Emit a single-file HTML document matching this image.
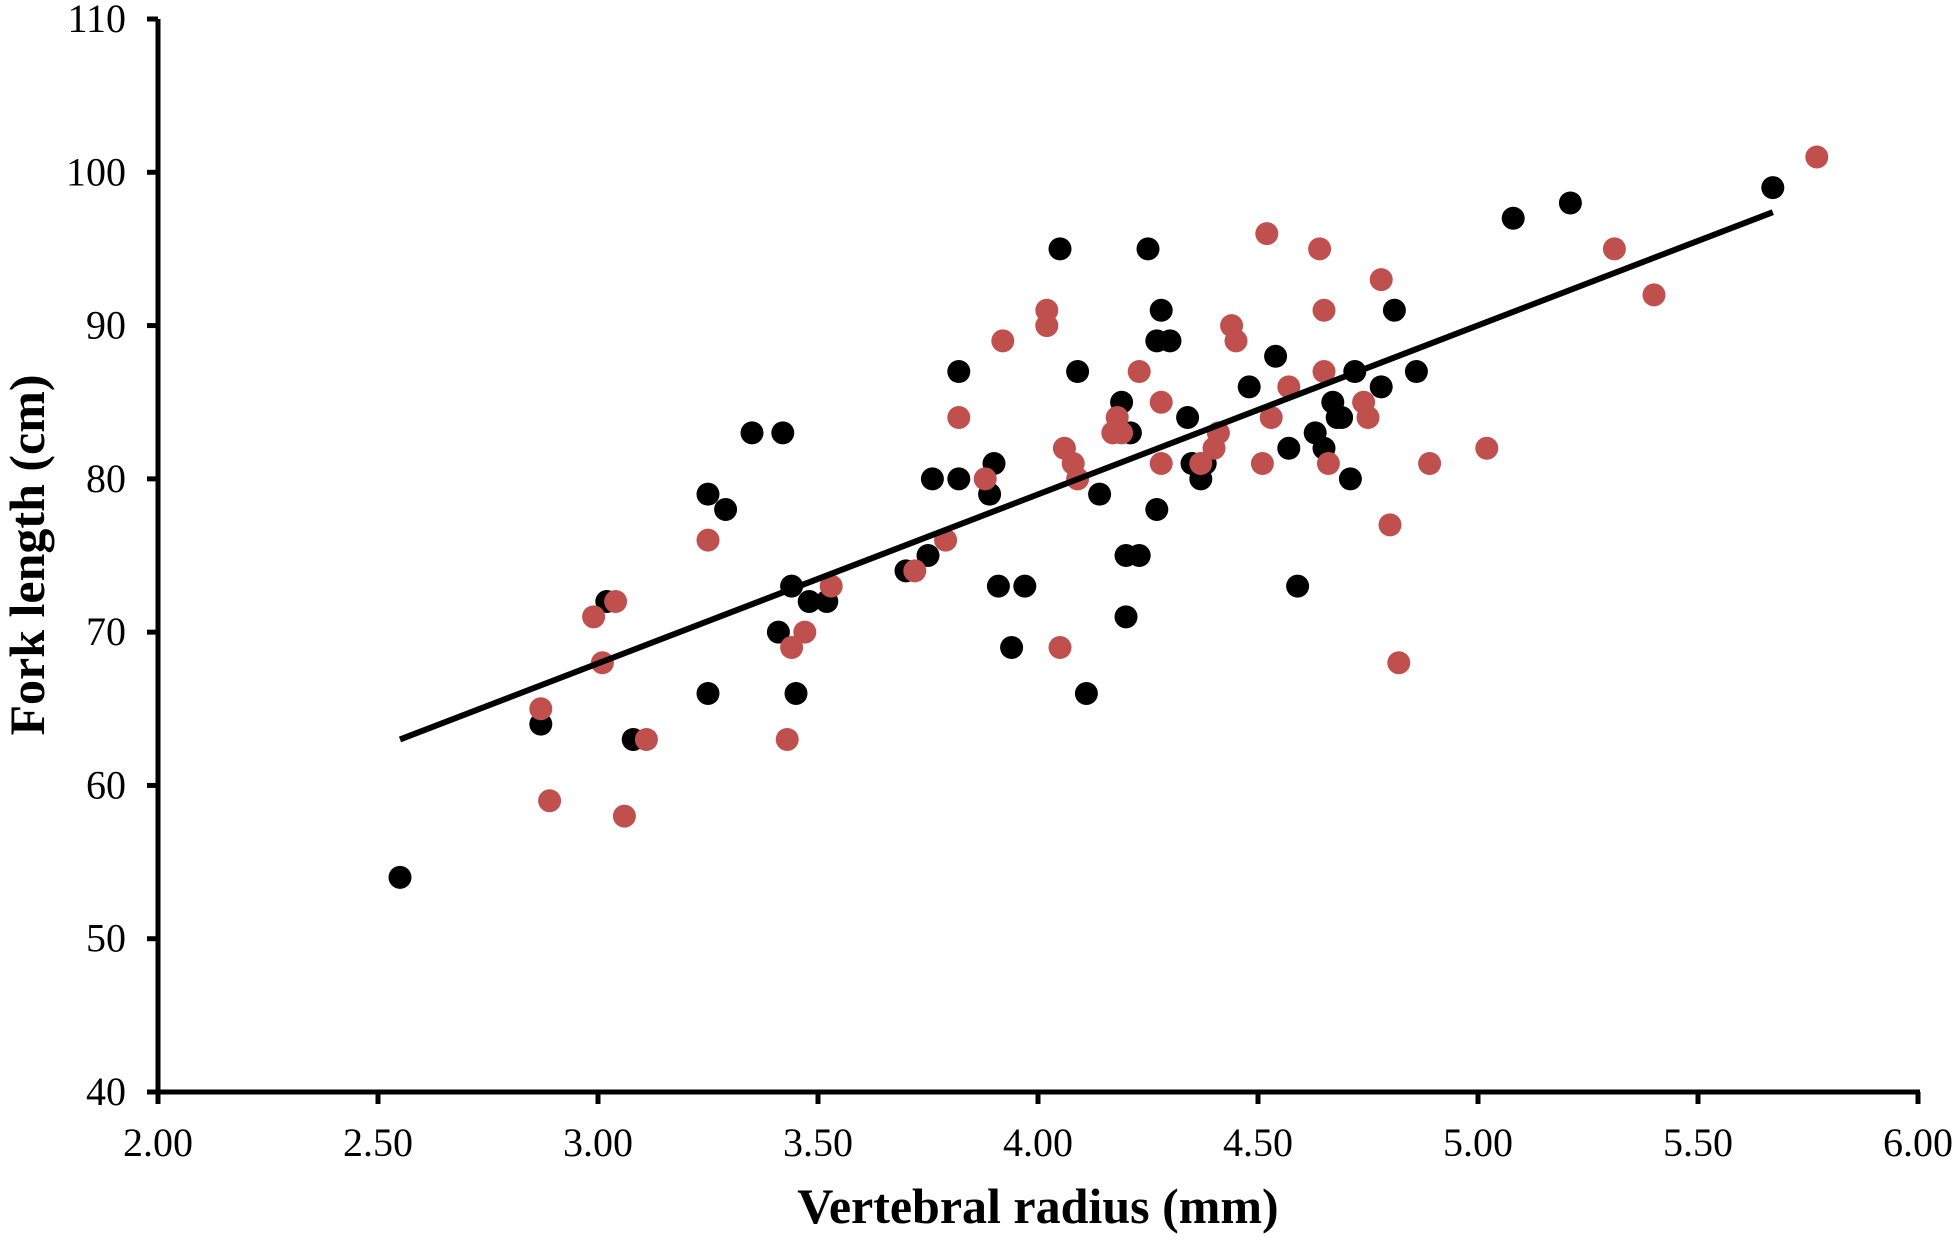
<!DOCTYPE html>
<html><head><meta charset="utf-8">
<style>
html,body{margin:0;padding:0;background:#fff;}
svg{display:block;}
text{font-family:"Liberation Serif",serif;fill:#000;}
</style></head>
<body>
<svg id="chart" width="1956" height="1241" viewBox="0 0 1956 1241" xmlns="http://www.w3.org/2000/svg">
<g id="plot"></g>
</svg>
<script>
const xTicks = [2.00,2.50,3.00,3.50,4.00,4.50,5.00,5.50,6.00];
const yTicks = [40,50,60,70,80,90,100,110];
const blackX = [2.55,2.87,3.02,3.08,3.25,3.25,3.29,3.35,3.42,3.41,3.44,3.45,3.48,3.52,3.70,3.75,3.76,3.82,3.82,3.89,3.90,3.91,3.94,3.97,4.05,4.09,4.11,4.14,4.19,4.21,4.20,4.23,4.20,4.25,4.27,4.28,4.30,4.27,4.34,4.35,4.37,4.38,4.48,4.54,4.57,4.59,4.63,4.65,4.67,4.68,4.69,4.71,4.72,4.78,4.81,4.86,5.08,5.21,5.67];
const blackY = [54,64,72,63,66,79,78,83,83,70,73,66,72,72,74,75,80,87,80,79,81,73,69,73,95,87,66,79,85,83,75,75,71,95,89,91,89,78,84,81,80,81,86,88,82,73,83,82,85,84,84,80,87,86,91,87,97,98,99];
const redX = [2.87,2.89,2.99,3.01,3.04,3.06,3.11,3.25,3.43,3.44,3.47,3.53,3.72,3.79,3.82,3.88,3.92,4.02,4.02,4.05,4.06,4.08,4.09,4.17,4.18,4.19,4.23,4.28,4.28,4.37,4.40,4.41,4.44,4.45,4.51,4.52,4.53,4.57,4.64,4.65,4.65,4.66,4.74,4.75,4.78,4.80,4.82,4.89,5.02,5.31,5.40,5.77];
const redY = [65,59,71,68,72,58,63,76,63,69,70,73,74,76,84,80,89,91,90,69,82,81,80,83,84,83,87,85,81,81,82,83,90,89,81,96,84,86,95,91,87,81,85,84,93,77,68,81,82,95,92,101];
const trendX = [2.55,5.67];
const trendY = [63.0,97.4];

const NS='http://www.w3.org/2000/svg';
const L=158,R=1918,T=19,B=1092;
const xS=v=>L+(v-2)/(6-2)*(R-L);
const yS=v=>B-(v-40)/(110-40)*(B-T);
const g=document.getElementById('plot');
function mk(tag,attrs){const e=document.createElementNS(NS,tag);for(const k in attrs)e.setAttribute(k,attrs[k]);g.appendChild(e);return e;}

blackX.forEach((x,i)=>{
  const c=mk('circle',{cx:xS(x),cy:yS(blackY[i]),r:11.5,fill:'#000'});
  
  
});
redX.forEach((x,i)=>{
  const c=mk('circle',{cx:xS(x),cy:yS(redY[i]),r:11.5,fill:'#c0504d'});
  
  
});
const tl=mk('line',{x1:xS(trendX[0]),y1:yS(trendY[0]),x2:xS(trendX[1]),y2:yS(trendY[1]),stroke:'#000','stroke-width':6});



const ya=mk('line',{x1:L,y1:T,x2:L,y2:B,stroke:'#000','stroke-width':5});


const xa=mk('line',{x1:L-2,y1:B,x2:R+2,y2:B,stroke:'#000','stroke-width':5});



yTicks.forEach(v=>{
  const y=yS(v);
  const t=mk('line',{x1:L-11,y1:y,x2:L,y2:y,stroke:'#000','stroke-width':5});
  
  
  const lb=mk('text',{x:126,y:y+13,'text-anchor':'end','font-size':40});
  lb.textContent=String(v);
  
  
});
xTicks.forEach(v=>{
  const x=xS(v);
  const t=mk('line',{x1:x,y1:B,x2:x,y2:B+12,stroke:'#000','stroke-width':5});
  
  
  const lb=mk('text',{x:x,y:1156,'text-anchor':'middle','font-size':40});
  lb.textContent=v.toFixed(2);
  
  
});
const xt=mk('text',{x:1038,y:1223,'text-anchor':'middle','font-size':50,'font-weight':'bold'});
xt.textContent='Vertebral radius (mm)';


const yt=mk('text',{x:0,y:0,'text-anchor':'middle','font-size':50,'font-weight':'bold',transform:'translate(44,555) rotate(-90)'});
yt.textContent='Fork length (cm)';


</script>
</body></html>
